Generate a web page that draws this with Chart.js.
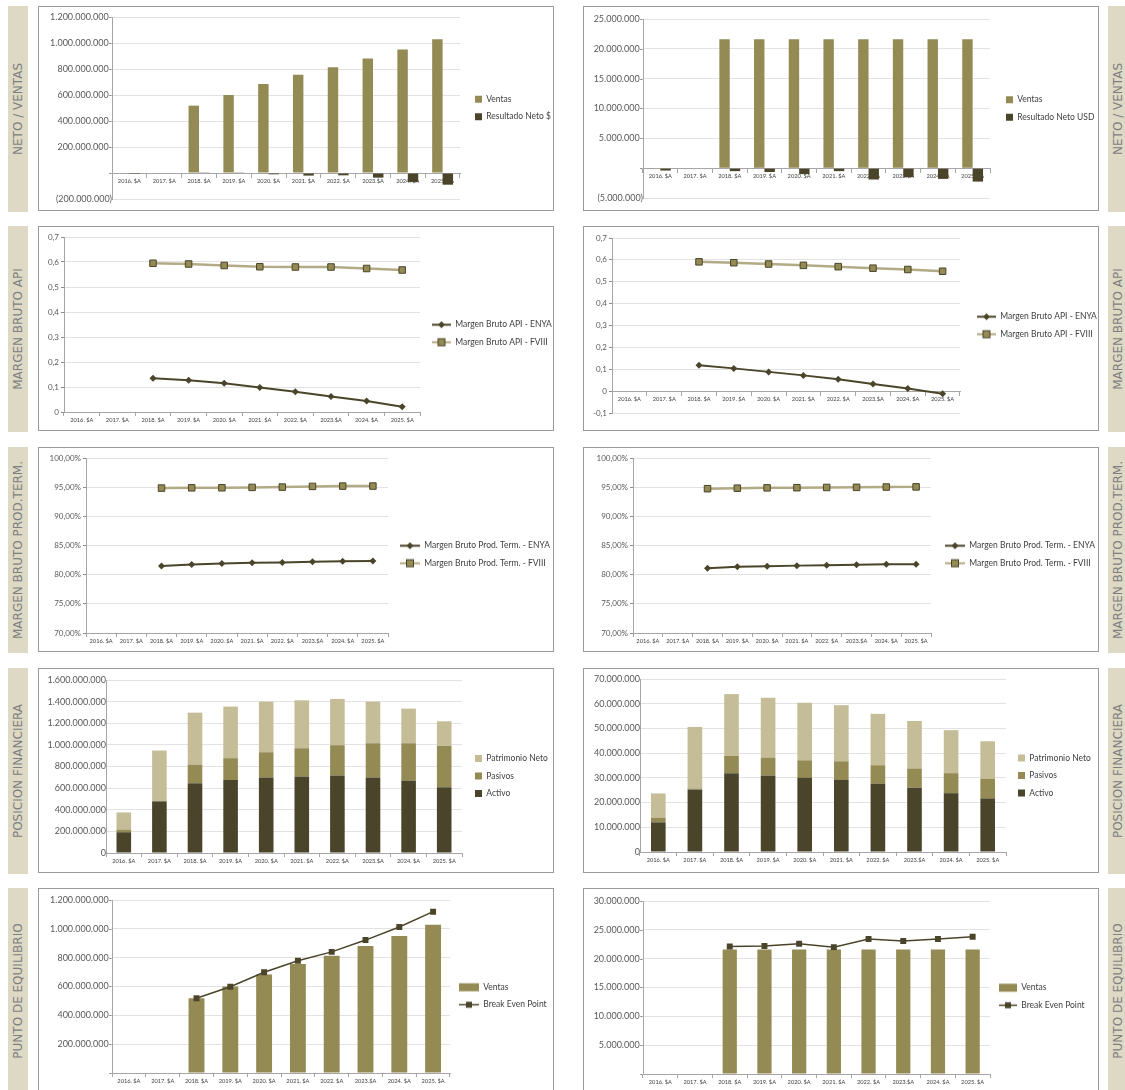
<!DOCTYPE html>
<html>
<head>
<meta charset="utf-8">
<script src="https://cdn.jsdelivr.net/npm/chart.js@4.4.1/dist/chart.umd.min.js"></script>
<style>
  html, body { margin: 0; padding: 0; background: #fff; width: 1125px; height: 1090px; overflow: hidden; position: relative; }
  .panel { position: absolute; border: 1px solid #9a9a9a; background: #fff; }
  .panel canvas { display: block; }
  .tag { position: absolute; width: 20px; height: 206px; background: #ddd9c4; }
  .tag span { position: absolute; left: 50%; top: 50%; transform: translate(-50%, -50%) rotate(-90deg); white-space: nowrap; font: 12px "DejaVu Sans"; color: #7f7f7f; }
</style>
</head>
<body>
<div id="page"></div>
<script>
// categorias (eje X)
const anios = ['2016. $A', '2017. $A', '2018. $A', '2019. $A', '2020. $A', '2021. $A', '2022. $A', '2023.$A', '2024. $A', '2025. $A'];

// neto / ventas
const ventasPesos = [null, null, 518e6, 600e6, 684e6, 756e6, 814e6, 881e6, 950e6, 1028e6];
const netoPesos = [-7e6, null, 2e6, 2e6, -10e6, -20e6, -18e6, -36e6, -69e6, -90e6];
const ventasUsd = [null, null, 21.6e6, 21.6e6, 21.6e6, 21.6e6, 21.6e6, 21.6e6, 21.6e6, 21.6e6];
const netoUsd = [-0.4e6, null, -0.5e6, -0.65e6, -1.0e6, -0.5e6, -1.9e6, -1.5e6, -1.8e6, -2.25e6];

// margen bruto API
const apiEnyaPesos = [null, null, 0.135, 0.127, 0.115, 0.098, 0.081, 0.062, 0.044, 0.021];
const apiFviiiPesos = [null, null, 0.595, 0.592, 0.586, 0.581, 0.580, 0.580, 0.574, 0.568];
const apiEnyaUsd = [null, null, 0.118, 0.104, 0.088, 0.072, 0.054, 0.033, 0.012, -0.012];
const apiFviiiUsd = [null, null, 0.591, 0.587, 0.581, 0.575, 0.569, 0.562, 0.556, 0.548];

// margen bruto producto terminado
const ptEnyaPesos = [null, null, 0.8147, 0.8176, 0.8193, 0.8203, 0.8210, 0.8220, 0.8228, 0.8233];
const ptFviiiPesos = [null, null, 0.9484, 0.9489, 0.9490, 0.9496, 0.9501, 0.9513, 0.9518, 0.9519];
const ptEnyaUsd = [null, null, 0.8112, 0.8136, 0.8145, 0.8155, 0.8163, 0.8171, 0.8177, 0.8180];
const ptFviiiUsd = [null, null, 0.9474, 0.9483, 0.9488, 0.9491, 0.9495, 0.9497, 0.9502, 0.9505];

// posicion financiera
const activoPesos = [192e6, 477e6, 646e6, 674e6, 698e6, 708e6, 717e6, 698e6, 668e6, 609e6];
const pasivosPesos = [25e6, 6e6, 172e6, 203e6, 234e6, 261e6, 280e6, 317e6, 347e6, 382e6];
const patrimonioPesos = [158e6, 465e6, 480e6, 477e6, 468e6, 443e6, 428e6, 385e6, 320e6, 227e6];
const activoUsd = [12.0e6, 25.2e6, 31.9e6, 31.0e6, 30.0e6, 29.2e6, 27.6e6, 26.0e6, 23.8e6, 21.7e6];
const pasivosUsd = [1.9e6, 0.5e6, 7.0e6, 7.2e6, 7.1e6, 7.5e6, 7.5e6, 7.8e6, 8.1e6, 8.0e6];
const patrimonioUsd = [9.8e6, 24.9e6, 25.0e6, 24.2e6, 23.3e6, 22.7e6, 20.8e6, 19.2e6, 17.4e6, 15.1e6];

// punto de equilibrio
const bepPesos = [null, null, 519e6, 598e6, 699e6, 778e6, 840e6, 922e6, 1013e6, 1119e6];
const bepUsd = [null, null, 22.1e6, 22.2e6, 22.6e6, 22.0e6, 23.4e6, 23.05e6, 23.4e6, 23.8e6];

const OSCURO = '#4a452a';
const OLIVA = '#948a54';
const ARENA = '#c4bd97';
const FUENTE = 'Lato';

const W = 514, H = 203;

// formatos numericos estilo Excel (es-AR)
const miles = v => Math.round(Math.abs(v)).toString().replace(/\B(?=(\d{3})+(?!\d))/g, '.');
const contable = v => v === 0 ? '-' : (v < 0 ? '(' + miles(v) + ')' : miles(v) + '-');
const entero = v => v === 0 ? '0' : miles(v);
const decimal = v => Math.abs(v) < 1e-9 ? '0' : v.toFixed(1).replace('.', ',');
const porcentaje = v => (v * 100).toFixed(2).replace('.', ',') + '%';

// iconos de leyenda (cuadro, rectangulo, linea con marcador)
function icono(margen, ancho, dibujar) {
  const c = document.createElement('canvas');
  c.width = margen + ancho;
  c.height = 11;
  const g = c.getContext('2d');
  g.translate(margen, 0);
  dibujar(g, ancho);
  return c;
}
const cuadro = color => g => { g.fillStyle = color; g.fillRect(0, 2, 7, 7); };
const barraAncha = color => (g, w) => { g.fillStyle = color; g.fillRect(0, 1.5, w, 8); };
const lineaRombo = (g, w) => {
  g.strokeStyle = OSCURO; g.lineWidth = 2;
  g.beginPath(); g.moveTo(0, 5.5); g.lineTo(w, 5.5); g.stroke();
  g.fillStyle = OSCURO;
  g.beginPath(); g.moveTo(w / 2, 2); g.lineTo(w / 2 + 3.5, 5.5); g.lineTo(w / 2, 9); g.lineTo(w / 2 - 3.5, 5.5); g.closePath(); g.fill();
};
const lineaCuadro = (g, w) => {
  g.strokeStyle = '#b3ab85'; g.lineWidth = 2;
  g.beginPath(); g.moveTo(0, 5.5); g.lineTo(w, 5.5); g.stroke();
  g.fillStyle = OLIVA; g.fillRect(w / 2 - 3.5, 2, 7, 7);
  g.strokeStyle = OSCURO; g.lineWidth = 1; g.strokeRect(w / 2 - 3.5, 2, 7, 7);
};
const lineaBep = (g, w) => {
  g.strokeStyle = OSCURO; g.lineWidth = 1.5;
  g.beginPath(); g.moveTo(0, 5.5); g.lineTo(w, 5.5); g.stroke();
  g.fillStyle = OSCURO; g.fillRect(w / 2 - 3, 2.5, 6, 6);
};

// fija el ancho de la leyenda para que el area del grafico termine en "derecha"
function leyendaFija(derecha) {
  return {
    id: 'leyendaFija',
    beforeLayout(chart) {
      const lg = chart.legend;
      if (!lg || lg._fija) return;
      const fit = lg.fit.bind(lg);
      lg.fit = function () { fit(); this.width = chart.width - derecha; };
      lg._fija = true;
    }
  };
}

function panel(x, y) {
  const div = document.createElement('div');
  div.className = 'panel';
  div.style.left = x + 'px';
  div.style.top = y + 'px';
  const cv = document.createElement('canvas');
  cv.width = W; cv.height = H;
  div.appendChild(cv);
  document.getElementById('page').appendChild(div);
  return cv;
}

function etiqueta(x, y, texto) {
  const div = document.createElement('div');
  div.className = 'tag';
  div.style.left = x + 'px';
  div.style.top = y + 'px';
  const s = document.createElement('span');
  s.textContent = texto;
  div.appendChild(s);
  document.getElementById('page').appendChild(div);
}

function grafico(cv, c) {
  const ejeX = {
    type: 'category',
    offset: true,
    position: c.xEnCero ? { y: 0 } : 'bottom',
    grid: { offset: true, drawOnChartArea: false, drawTicks: true, tickLength: 4, tickColor: '#a6a6a6' },
    border: { color: '#a6a6a6' },
    ticks: { font: { family: FUENTE, size: 5.7 }, color: '#404040', padding: 1, maxRotation: 0, autoSkip: false },
    stacked: !!c.apilado
  };
  if (!c.xEnCero) ejeX.afterFit = s => { s.height = H - c.B; };

  const ejeY = {
    min: c.min, max: c.max,
    stacked: !!c.apilado,
    ticks: { stepSize: c.paso, callback: c.fmt, font: { family: FUENTE, size: c.letraY || 8 }, color: '#595959', padding: c.marcas ? 2 : 0 },
    grid: { color: '#e2e2e2', drawTicks: !!c.marcas, tickLength: 3, tickColor: '#8c8c8c' },
    border: { color: '#a6a6a6' },
    afterFit: s => { s.width = c.L; }
  };

  return new Chart(cv, {
    type: c.tipo,
    data: { labels: anios, datasets: c.datasets },
    options: {
      responsive: false,
      animation: false,
      events: [],
      layout: { padding: { left: 0, right: 0, top: c.T, bottom: c.xEnCero ? H - c.B : 0 } },
      datasets: { bar: { categoryPercentage: c.cat || 1, barPercentage: c.bar || 0.42 } },
      scales: { x: ejeX, y: ejeY },
      plugins: {
        tooltip: { enabled: false },
        legend: {
          position: 'right',
          reverse: !!c.invertir,
          labels: {
            usePointStyle: true,
            pointStyleWidth: c.anchoIcono,
            padding: 9,
            color: '#404040',
            font: { family: FUENTE, size: 8.5 },
            sort: (a, b) => a.datasetIndex - b.datasetIndex,
            generateLabels(chart) {
              const items = Chart.defaults.plugins.legend.labels.generateLabels(chart);
              items.forEach(it => { it.pointStyle = chart.data.datasets[it.datasetIndex].icono; });
              return items;
            }
          }
        }
      }
    },
    plugins: [leyendaFija(c.R)]
  });
}

function barraSimple(label, data, color, ic) {
  return { type: 'bar', label, data, backgroundColor: color, borderWidth: 0, icono: ic };
}
function lineaEnya(label, data, ic) {
  return { type: 'line', label, data, borderColor: OSCURO, borderWidth: 2, pointStyle: 'rectRot', pointRadius: 3.5,
    pointBackgroundColor: OSCURO, pointBorderColor: OSCURO, pointBorderWidth: 0, spanGaps: false, icono: ic };
}
function lineaFviii(label, data, ic) {
  return { type: 'line', label, data, borderColor: '#b3ab85', borderWidth: 2.5, pointStyle: 'rect', pointRadius: 4.6,
    pointBackgroundColor: OLIVA, pointBorderColor: OSCURO, pointBorderWidth: 1, icono: ic };
}
function lineaBepSet(label, data, ic) {
  return { type: 'line', label, data, order: 0, borderColor: OSCURO, borderWidth: 1.5, pointStyle: 'rect', pointRadius: 4.2,
    pointBackgroundColor: OSCURO, pointBorderColor: OSCURO, pointBorderWidth: 0, icono: ic };
}

const filas = [6, 226, 447, 668, 888];
const titulos = ['NETO / VENTAS', 'MARGEN BRUTO API', 'MARGEN BRUTO PROD.TERM.', 'POSICION FINANCIERA', 'PUNTO DE EQUILIBRIO'];
titulos.forEach((t, i) => { etiqueta(8, filas[i], t); etiqueta(1108, filas[i], t); });

const IZQ = 38, DER = 583;

// fila 1: neto / ventas
grafico(panel(IZQ, filas[0]), {
  tipo: 'bar', L: 73, R: 421, T: 10, B: 192, xEnCero: true, min: -200e6, max: 1200e6, paso: 200e6, fmt: contable,
  letraY: 9, cat: 0.6, bar: 1, anchoIcono: 13,
  datasets: [
    barraSimple('Ventas', ventasPesos, OLIVA, icono(6, 7, cuadro(OLIVA))),
    barraSimple('Resultado Neto $', netoPesos, OSCURO, icono(6, 7, cuadro(OSCURO)))
  ]
});
grafico(panel(DER, filas[0]), {
  tipo: 'bar', L: 59, R: 406, T: 12, B: 191, xEnCero: true, min: -5e6, max: 25e6, paso: 5e6, fmt: contable,
  letraY: 9, cat: 0.6, bar: 1, anchoIcono: 14,
  datasets: [
    barraSimple('Ventas', ventasUsd, OLIVA, icono(7, 7, cuadro(OLIVA))),
    barraSimple('Resultado Neto USD', netoUsd, OSCURO, icono(7, 7, cuadro(OSCURO)))
  ]
});

// fila 2: margen bruto API
grafico(panel(IZQ, filas[1]), {
  tipo: 'line', L: 25, R: 381, T: 10, B: 185, min: 0, max: 0.7, paso: 0.1, fmt: decimal, marcas: true, anchoIcono: 22,
  datasets: [
    lineaEnya('Margen Bruto API - ENYA', apiEnyaPesos, icono(3, 19, lineaRombo)),
    lineaFviii('Margen Bruto API - FVIII', apiFviiiPesos, icono(3, 19, lineaCuadro))
  ]
});
grafico(panel(DER, filas[1]), {
  tipo: 'line', L: 28, R: 376, T: 11, B: 186, xEnCero: true, min: -0.1, max: 0.7, paso: 0.1, fmt: decimal, marcas: true, anchoIcono: 27,
  datasets: [
    lineaEnya('Margen Bruto API - ENYA', apiEnyaUsd, icono(8, 19, lineaRombo)),
    lineaFviii('Margen Bruto API - FVIII', apiFviiiUsd, icono(8, 19, lineaCuadro))
  ]
});

// fila 3: margen bruto producto terminado
grafico(panel(IZQ, filas[2]), {
  tipo: 'line', L: 47, R: 349, T: 10, B: 185, min: 0.7, max: 1, paso: 0.05, fmt: porcentaje, marcas: true, anchoIcono: 23,
  datasets: [
    lineaEnya('Margen Bruto Prod. Term. - ENYA', ptEnyaPesos, icono(3, 20, lineaRombo)),
    lineaFviii('Margen Bruto Prod. Term. - FVIII', ptFviiiPesos, icono(3, 20, lineaCuadro))
  ]
});
grafico(panel(DER, filas[2]), {
  tipo: 'line', L: 49, R: 347, T: 10, B: 185, min: 0.7, max: 1, paso: 0.05, fmt: porcentaje, marcas: true, anchoIcono: 25,
  datasets: [
    lineaEnya('Margen Bruto Prod. Term. - ENYA', ptEnyaUsd, icono(5, 20, lineaRombo)),
    lineaFviii('Margen Bruto Prod. Term. - FVIII', ptFviiiUsd, icono(5, 20, lineaCuadro))
  ]
});

// fila 4: posicion financiera (apilado)
grafico(panel(IZQ, filas[3]), {
  tipo: 'bar', L: 67, R: 423, T: 11, B: 184, min: 0, max: 1600e6, paso: 200e6, fmt: entero, apilado: true, invertir: true,
  letraY: 9, bar: 0.41, anchoIcono: 11,
  datasets: [
    barraSimple('Activo', activoPesos, OSCURO, icono(4, 7, cuadro(OSCURO))),
    barraSimple('Pasivos', pasivosPesos, OLIVA, icono(4, 7, cuadro(OLIVA))),
    barraSimple('Patrimonio Neto', patrimonioPesos, ARENA, icono(4, 7, cuadro(ARENA)))
  ]
});
grafico(panel(DER, filas[3]), {
  tipo: 'bar', L: 56, R: 422, T: 10, B: 183, min: 0, max: 70e6, paso: 10e6, fmt: entero, apilado: true, invertir: true,
  letraY: 9, bar: 0.4, anchoIcono: 10,
  datasets: [
    barraSimple('Activo', activoUsd, OSCURO, icono(3, 7, cuadro(OSCURO))),
    barraSimple('Pasivos', pasivosUsd, OLIVA, icono(3, 7, cuadro(OLIVA))),
    barraSimple('Patrimonio Neto', patrimonioUsd, ARENA, icono(3, 7, cuadro(ARENA)))
  ]
});

// fila 5: punto de equilibrio
grafico(panel(IZQ, filas[4]), {
  tipo: 'bar', L: 73, R: 411, T: 11, B: 184, min: 0, max: 1200e6, paso: 200e6, fmt: contable, letraY: 9, bar: 0.47, anchoIcono: 20,
  datasets: [
    Object.assign(barraSimple('Ventas', ventasPesos, OLIVA, icono(0, 20, barraAncha(OLIVA))), { order: 1 }),
    lineaBepSet('Break Even Point', bepPesos, icono(0, 20, lineaBep))
  ]
});
grafico(panel(DER, filas[4]), {
  tipo: 'bar', L: 59, R: 406, T: 12, B: 185, min: 0, max: 30e6, paso: 5e6, fmt: contable, letraY: 9, bar: 0.41, anchoIcono: 18,
  datasets: [
    Object.assign(barraSimple('Ventas', ventasUsd, OLIVA, icono(0, 18, barraAncha(OLIVA))), { order: 1 }),
    lineaBepSet('Break Even Point', bepUsd, icono(0, 18, lineaBep))
  ]
});
</script>
</body>
</html>
